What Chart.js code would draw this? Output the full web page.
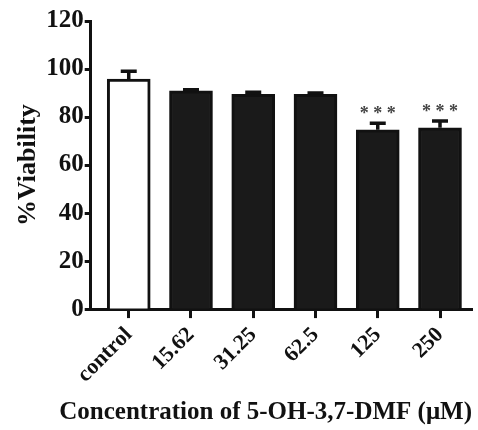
<!DOCTYPE html>
<html>
<head>
<meta charset="utf-8">
<script src="https://cdn.jsdelivr.net/npm/chart.js@4"></script>
<style>
  html, body { margin: 0; padding: 0; background: #fff; }
  #wrap { width: 478px; height: 430px; }
</style>
</head>
<body>
<div id="wrap"><canvas id="k1" width="478" height="430"></canvas></div>
<script>
const categories = ['control', '15.62', '31.25', '62.5', '125', '250']
const viability = [95.8, 90.9, 89.5, 89.5, 74.7, 75.5]
const errors = [3.3, 0.5, 0.8, 0.5, 2.7, 2.8]
const stars = ['', '', '', '', '***', '***']
const yTicks = [0, 20, 40, 60, 80, 100, 120]

const fillColors = ['#ffffff', '#1a1a1a', '#1a1a1a', '#1a1a1a', '#1a1a1a', '#1a1a1a']

Chart.defaults.font.family = '"Liberation Serif", "Times New Roman", serif'
Chart.defaults.font.weight = 'bold'
Chart.defaults.color = '#111'

// error bars (upper half only) + significance stars
const errorBars = {
  id: 'errorBars',
  afterDatasetsDraw(chart) {
    const ctx = chart.ctx
    const meta = chart.getDatasetMeta(0)
    const ys = chart.scales.y
    ctx.save()
    ctx.strokeStyle = '#111'
    ctx.lineWidth = 3.5
    meta.data.forEach((bar, i) => {
      const top = ys.getPixelForValue(viability[i])
      const hi = ys.getPixelForValue(viability[i] + errors[i])
      ctx.beginPath()
      ctx.moveTo(bar.x, top)
      ctx.lineTo(bar.x, hi)
      ctx.moveTo(bar.x - 8, hi)
      ctx.lineTo(bar.x + 8, hi)
      ctx.stroke()
      if (stars[i]) {
        ctx.fillStyle = '#444'
        ctx.font = 'bold 18px "Liberation Serif", serif'
        ctx.textAlign = 'center'
        ctx.textBaseline = 'middle'
        ctx.fillText(stars[i].split('').join(' '), bar.x, hi - 9)
      }
    })
    ctx.restore()
  }
}

new Chart(document.getElementById('k1'), {
  type: 'bar',
  data: {
    datasets: [{
      data: categories.map((c, i) => ({ x: i, y: viability[i] })),
      backgroundColor: fillColors,
      borderColor: '#111',
      borderWidth: 3,
      barThickness: 43,
    }]
  },
  options: {
    responsive: false,
    animation: false,
    layout: { padding: { top: 21, right: 6, left: 13, bottom: 0 } },
    plugins: {
      legend: { display: false },
      tooltip: { enabled: false },
      // axis caption drawn as a bottom title so it can run wider than the plot
      title: {
        display: true,
        position: 'bottom',
        align: 'end',
        text: 'Concentration of 5-OH-3,7-DMF (\u03bcM)',
        font: { size: 25, weight: 'bold' },
        color: '#111',
        padding: { top: 6, bottom: 2 }
      }
    },
    scales: {
      x: {
        type: 'linear',
        offset: false,
        min: -0.611,
        max: 5.514,
        grid: { offset: false, drawOnChartArea: false, tickLength: 9, tickWidth: 3, tickColor: '#111' },
        border: { color: '#111', width: 3 },
        ticks: {
          stepSize: 1,
          includeBounds: false,
          autoSkip: false,
          maxRotation: 45,
          minRotation: 45,
          padding: 4,
          font: { size: 22 },
          color: '#111',
          callback: (v) => categories[v] ?? ''
        }
      },
      y: {
        min: 0,
        max: 120,
        afterBuildTicks: (s) => { s.ticks = yTicks.map(v => ({ value: v })) },
        grid: { drawOnChartArea: false, tickLength: 6, tickWidth: 3, tickColor: '#111' },
        border: { color: '#111', width: 3 },
        ticks: { font: { size: 25 }, color: '#111', padding: 1 },
        title: {
          display: true,
          text: '%Viability',
          font: { size: 26 },
          color: '#111',
          padding: { top: 0, bottom: 1 }
        }
      }
    }
  },
  plugins: [errorBars]
})
</script>
</body>
</html>
